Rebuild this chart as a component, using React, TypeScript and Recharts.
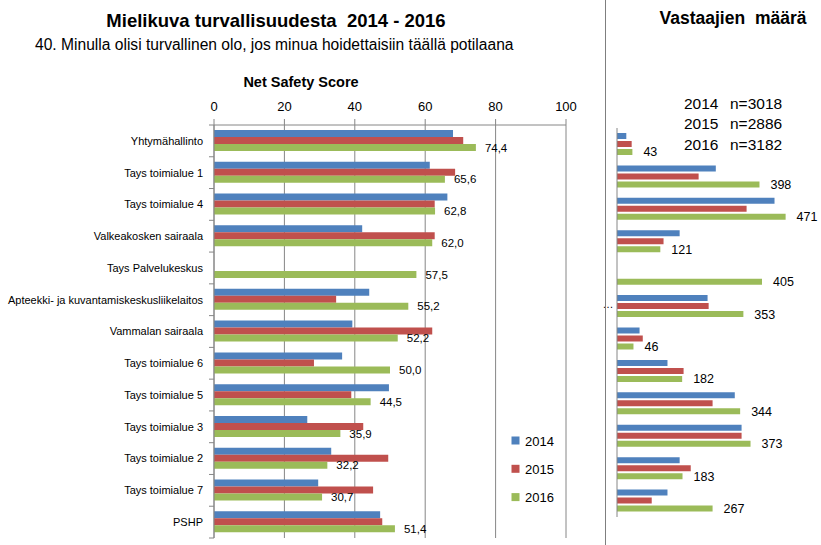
import React from 'react';
import { BarChart, Bar, XAxis, YAxis, CartesianGrid, LabelList } from 'recharts';

const categories = [
  'Yhtymähallinto',
  'Tays toimialue 1',
  'Tays toimialue 4',
  'Valkeakosken sairaala',
  'Tays Palvelukeskus',
  'Apteekki- ja kuvantamiskeskusliikelaitos',
  'Vammalan sairaala',
  'Tays toimialue 6',
  'Tays toimialue 5',
  'Tays toimialue 3',
  'Tays toimialue 2',
  'Tays toimialue 7',
  'PSHP',
];

const score2014 = [67.9, 61.3, 66.3, 42.1, null, 44.1, 39.3, 36.4, 49.7, 26.5, 33.3, 29.6, 47.2];
const score2015 = [70.8, 68.5, 62.7, 62.7, null, 34.7, 62.0, 28.4, 39.0, 42.4, 49.5, 45.2, 47.8];
const score2016 = [74.4, 65.6, 62.8, 62.0, 57.5, 55.2, 52.2, 50.0, 44.5, 35.9, 32.2, 30.7, 51.4];

const count2014 = [26, 276, 440, 175, null, 253, 63, 141, 329, 348, 175, 141];
const count2015 = [41, 228, 362, 130, null, 256, 72, 186, 267, 348, 206, 97];
const count2016 = [43, 398, 471, 121, 405, 353, 46, 182, 344, 373, 183, 267];

const years = ['2014', '2015', '2016'];
const totals = ['n=3018', 'n=2886', 'n=3182'];
const colors = ['#4F81BD', '#C0504D', '#9BBB59'];
const scoreTicks = [0, 20, 40, 60, 80, 100];

const scoreData = categories.map((name, i) => ({
  name,
  y2014: score2014[i],
  y2015: score2015[i],
  y2016: score2016[i],
}));

const countData = count2016.map((v, i) => ({
  name: categories[i],
  y2014: count2014[i],
  y2015: count2015[i],
  y2016: v,
}));

const FONT = "'Liberation Sans', Arial, sans-serif";
const AXIS = '#868686';

// left chart geometry
const L_W = 600;
const L_H = 545;
const L_LEFT = 214;
const L_TOP = 125;
const L_BOTTOM = 538;
const L_RIGHT = 566;
const L_BAND = (L_BOTTOM - L_TOP) / categories.length;

// right chart geometry
const R_X = 600;
const R_W = 221;
const R_AXIS = 17;
const R_TOP = 128;
const R_BOTTOM = 517;
const R_PLOT_W = 179;

const fmtComma = (v: any) => (v == null ? '' : Number(v).toFixed(1).replace('.', ','));

const LeftTick = (props: any) => {
  const { y, payload, index } = props;
  return (
    <g>
      <text
        x={L_LEFT - 11}
        y={y}
        dy="0.35em"
        textAnchor="end"
        fontSize={11}
        fill="#000"
        fontFamily={FONT}
      >
        {payload.value}
      </text>
      <line x1={L_LEFT - 5} x2={L_LEFT} y1={y + L_BAND / 2} y2={y + L_BAND / 2} stroke={AXIS} />
      {index === 0 ? (
        <line x1={L_LEFT - 5} x2={L_LEFT} y1={y - L_BAND / 2} y2={y - L_BAND / 2} stroke={AXIS} />
      ) : null}
    </g>
  );
};

const RightTick = (props: any) => {
  const { y, payload } = props;
  if (!payload || String(payload.value).length < 30) return <g />;
  return (
    <text x={8} y={y} dy="0.2em" textAnchor="middle" fontSize={11} fill="#000" fontFamily={FONT}>
      …
    </text>
  );
};

export default function App() {
  return (
    <div
      style={{
        position: 'absolute',
        left: 0,
        top: 0,
        width: 821,
        height: 545,
        background: '#fff',
        fontFamily: FONT,
        overflow: 'hidden',
      }}
    >
      <div style={{ position: 'absolute', left: 0, top: 0 }}>
        <BarChart
          width={L_W}
          height={L_H}
          data={scoreData}
          layout="vertical"
          margin={{ top: L_TOP - 30, right: L_W - L_RIGHT, bottom: L_H - L_BOTTOM, left: 0 }}
          barGap={0}
          barCategoryGap="15%"
        >
          <CartesianGrid horizontal={false} stroke={AXIS} />
          <XAxis
            type="number"
            orientation="top"
            domain={[0, 100]}
            ticks={scoreTicks}
            interval={0}
            height={30}
            axisLine={{ stroke: AXIS }}
            tickLine={{ stroke: AXIS }}
            tickSize={6}
            tickMargin={8}
            tick={{ fontSize: 13, fill: '#000', fontFamily: FONT }}
          />
          <YAxis
            type="category"
            dataKey="name"
            width={L_LEFT}
            interval={0}
            axisLine={{ stroke: AXIS }}
            tickLine={false}
            tick={(p: any) => <LeftTick {...p} />}
          />
          <Bar dataKey="y2014" fill={colors[0]} barSize={7} isAnimationActive={false} />
          <Bar dataKey="y2015" fill={colors[1]} barSize={7} isAnimationActive={false} />
          <Bar dataKey="y2016" fill={colors[2]} barSize={7} isAnimationActive={false}>
            <LabelList
              dataKey="y2016"
              position="right"
              offset={9}
              formatter={fmtComma}
              style={{ fontSize: 11.5, fill: '#000', fontFamily: FONT }}
            />
          </Bar>
        </BarChart>
      </div>

      <div style={{ position: 'absolute', left: R_X, top: 0 }}>
        <BarChart
          width={R_W}
          height={L_H}
          data={countData}
          layout="vertical"
          margin={{ top: R_TOP, right: R_W - R_AXIS - R_PLOT_W, bottom: L_H - R_BOTTOM, left: 0 }}
          barGap={2}
        >
          <XAxis type="number" domain={[0, 500]} hide />
          <YAxis
            type="category"
            dataKey="name"
            width={R_AXIS}
            interval={0}
            axisLine={{ stroke: AXIS }}
            tickLine={false}
            tick={(p: any) => <RightTick {...p} />}
          />
          <Bar dataKey="y2014" fill={colors[0]} barSize={6} isAnimationActive={false} />
          <Bar dataKey="y2015" fill={colors[1]} barSize={6} isAnimationActive={false} />
          <Bar dataKey="y2016" fill={colors[2]} barSize={6} isAnimationActive={false}>
            <LabelList
              dataKey="y2016"
              position="right"
              offset={11}
              style={{ fontSize: 12.5, fill: '#000', fontFamily: FONT }}
            />
          </Bar>
        </BarChart>
      </div>

      <svg
        width={821}
        height={545}
        style={{ position: 'absolute', left: 0, top: 0, pointerEvents: 'none' }}
        fontFamily={FONT}
      >
        <text x={276} y={27} textAnchor="middle" fontSize={18.5} fontWeight="bold" fill="#000" style={{ whiteSpace: 'pre' }}>
          {'Mielikuva turvallisuudesta  2014 - 2016'}
        </text>
        <text x={35} y={50} fontSize={15.6} fill="#000">
          40. Minulla olisi turvallinen olo, jos minua hoidettaisiin täällä potilaana
        </text>
        <text x={301} y={87} textAnchor="middle" fontSize={14.5} fontWeight="bold" fill="#000">
          Net Safety Score
        </text>

        <line x1={605.5} x2={605.5} y1={0} y2={545} stroke="#7f7f7f" />
        <text x={733} y={24} textAnchor="middle" fontSize={17.5} fontWeight="bold" fill="#000" style={{ whiteSpace: 'pre' }}>
          {'Vastaajien  määrä'}
        </text>
        {years.map((yr, i) => (
          <g key={yr}>
            <text x={684} y={108.5 + i * 20.5} fontSize={15.5} fill="#000">
              {yr}
            </text>
            <text x={730} y={108.5 + i * 20.5} fontSize={15.5} fill="#000">
              {totals[i]}
            </text>
          </g>
        ))}

        {years.map((yr, i) => (
          <g key={'lg' + yr}>
            <rect x={511.5} y={436.5 + i * 28.3} width={8} height={8} fill={colors[i]} />
            <text x={525} y={445.5 + i * 28.3} fontSize={13} fill="#000">
              {yr}
            </text>
          </g>
        ))}
      </svg>
    </div>
  );
}
